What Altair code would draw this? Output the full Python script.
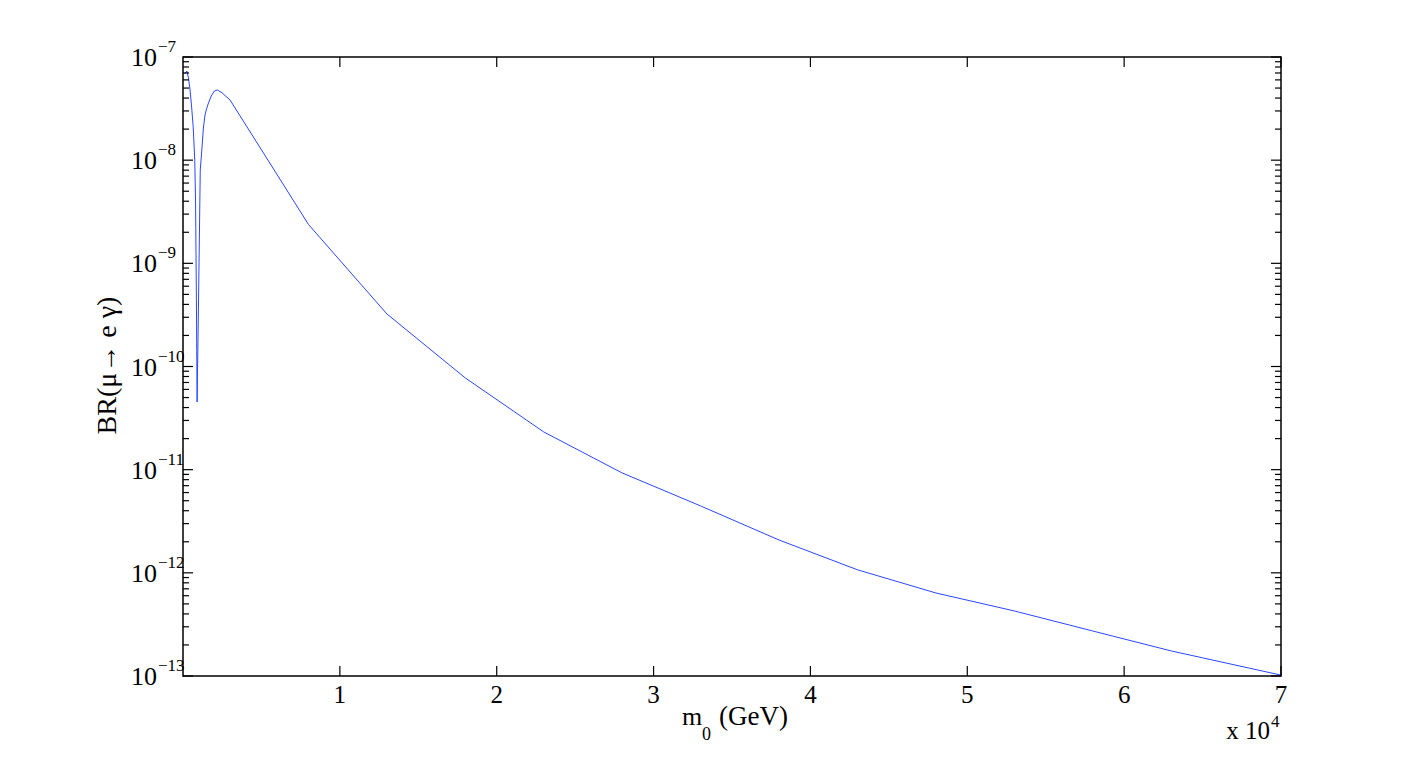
import altair as alt
import pandas as pd

# ---- data ----
m0 = [100, 250, 350, 450, 550, 650, 750, 800, 850, 900, 1000, 1100, 1200, 1300,
      1400, 1500, 1600, 1800, 2000, 2200, 2500, 3000, 8000, 13000, 18000, 23000,
      28000, 33000, 38000, 43000, 48000, 53000, 58000, 63000, 68000, 70000]
br = [6.84e-8, 7.31e-8, 6.25e-8, 4.79e-8, 3.27e-8, 2.10e-8, 1.00e-8, 4.11e-9,
      5.52e-10, 4.53e-11, 5.52e-10, 8.04e-9, 1.26e-8, 2.05e-8, 2.74e-8, 3.13e-8,
      3.50e-8, 4.19e-8, 4.68e-8, 4.79e-8, 4.48e-8, 3.83e-8, 2.38e-9, 3.23e-10,
      7.74e-11, 2.32e-11, 9.29e-12, 4.45e-12, 2.08e-12, 1.07e-12, 6.38e-13,
      4.27e-13, 2.73e-13, 1.75e-13, 1.19e-13, 1.02e-13]

x_tick_labels = ["1", "2", "3", "4", "5", "6", "7"]
x_tick_values = [10000, 20000, 30000, 40000, 50000, 60000, 70000]
y_exponents = [-13, -12, -11, -10, -9, -8, -7]
minor_mult = [2, 3, 4, 5, 6, 7, 8, 9]

W, H = 1098, 619
FONT = "Liberation Serif"

df = pd.DataFrame({"m0": m0, "br": br})
df_major = pd.DataFrame({"v": [10.0 ** e for e in y_exponents],
                         "exp": ["\u2212" + str(-e) for e in y_exponents]})
df_minor = pd.DataFrame({"v": [k * 10.0 ** e for e in y_exponents[:-1] for k in minor_mult]})
df_xt = pd.DataFrame({"x": x_tick_values, "lab": x_tick_labels})

xs = alt.Scale(domain=[0, 70000], nice=False, zero=False)
ys = alt.Scale(type="log", domain=[1e-13, 1e-7], nice=False)

X = lambda f: alt.X(f, type="quantitative", scale=xs, axis=None)
Y = lambda f: alt.Y(f, type="quantitative", scale=ys, axis=None)

line = alt.Chart(df).mark_line(color="#2a47ff", strokeWidth=1, clip=True).encode(
    x=X("m0"), y=Y("br"))

# ticks (inward, MATLAB style)
ymaj_l = alt.Chart(df_major).mark_rule(color="black", strokeWidth=1.2).encode(
    y=Y("v"), x=alt.value(0), x2=alt.value(10))
ymaj_r = alt.Chart(df_major).mark_rule(color="black", strokeWidth=1.2).encode(
    y=Y("v"), x=alt.value(W - 10), x2=alt.value(W))
ymin_l = alt.Chart(df_minor).mark_rule(color="black", strokeWidth=1.2).encode(
    y=Y("v"), x=alt.value(0), x2=alt.value(6))
ymin_r = alt.Chart(df_minor).mark_rule(color="black", strokeWidth=1.2).encode(
    y=Y("v"), x=alt.value(W - 6), x2=alt.value(W))
xt_b = alt.Chart(df_xt).mark_rule(color="black", strokeWidth=1.2).encode(
    x=X("x"), y=alt.value(H - 10), y2=alt.value(H))
xt_t = alt.Chart(df_xt).mark_rule(color="black", strokeWidth=1.2).encode(
    x=X("x"), y=alt.value(0), y2=alt.value(10))

# tick labels
ylab10 = alt.Chart(df_major).mark_text(font=FONT, fontSize=26, align="right",
                                       baseline="alphabetic", dy=9, color="black").encode(
    y=Y("v"), x=alt.value(-26), text=alt.value("10"))
ylabexp = alt.Chart(df_major).mark_text(font=FONT, fontSize=17, align="left",
                                        baseline="alphabetic", dy=-5, color="black").encode(
    y=Y("v"), x=alt.value(-25), text="exp:N")
xlab = alt.Chart(df_xt).mark_text(font=FONT, fontSize=25, align="center",
                                  baseline="alphabetic", color="black").encode(
    x=X("x"), y=alt.value(H + 27), text="lab:N")

# axis titles
one = pd.DataFrame({"a": [0]})
t_m = alt.Chart(one).mark_text(font=FONT, fontSize=26, align="left", baseline="alphabetic",
                               color="black").encode(
    x=alt.value(499), y=alt.value(H + 49), text=alt.value("m"))
t_0 = alt.Chart(one).mark_text(font=FONT, fontSize=18, align="left", baseline="alphabetic",
                               color="black").encode(
    x=alt.value(519), y=alt.value(H + 64), text=alt.value("0"))
t_gev = alt.Chart(one).mark_text(font=FONT, fontSize=27, align="left", baseline="alphabetic",
                                 color="black").encode(
    x=alt.value(536), y=alt.value(H + 49), text=alt.value("(GeV)"))
t_x10 = alt.Chart(one).mark_text(font=FONT, fontSize=25, align="right", baseline="alphabetic",
                                 color="black").encode(
    x=alt.value(W - 11), y=alt.value(H + 63), text=alt.value("x 10"))
t_x4 = alt.Chart(one).mark_text(font=FONT, fontSize=17, align="left", baseline="alphabetic",
                                color="black").encode(
    x=alt.value(W - 10), y=alt.value(H + 51), text=alt.value("4"))
t_y = alt.Chart(one).mark_text(font=FONT, fontSize=28, align="center", baseline="middle",
                               angle=270, color="black").encode(
    x=alt.value(-75), y=alt.value(H / 2 - 1), text=alt.value("BR(\u03bc\u2192 e \u03b3)"))

chart = alt.layer(
    line, ymaj_l, ymaj_r, ymin_l, ymin_r, xt_b, xt_t,
    ylab10, ylabexp, xlab, t_m, t_0, t_gev, t_x10, t_x4, t_y
).properties(
    width=W, height=H,
    autosize=alt.AutoSizeParams(type="none"),
    padding={"left": 175, "top": 49, "right": 100, "bottom": 70},
    background="white",
).configure_view(stroke="black", strokeWidth=1.5)

chart.save("out.html", embed_options={"renderer": "svg", "actions": False})
